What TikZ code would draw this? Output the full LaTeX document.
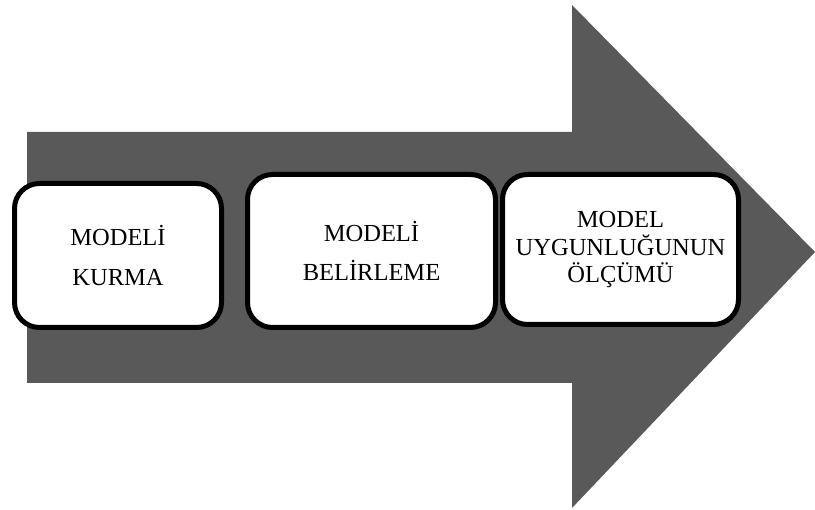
\documentclass[tikz,border=0pt]{standalone}
\usepackage{fontspec}
\setmainfont{Liberation Serif}
\usetikzlibrary{shapes}
\definecolor{arrowGray}{HTML}{595959}

\begin{document}
\begin{tikzpicture}[x = 1pt, y = -1pt]
	\tikzstyle{arrowStyle} = [fill = arrowGray, draw = none]
	\tikzstyle{stepStyle} = [shape = rectangle, rounded corners = 25pt, line width = 5pt, draw = black, fill = white, align = center, inner sep = 0pt, font = \fontsize{24.5}{27.5}\selectfont]
	\useasboundingbox (0, 0) rectangle (815, 510);
	\fill[arrowStyle] (27, 132) -- (572, 132) -- (572, 5) -- (815, 252) -- (572, 508) -- (572, 383) -- (27, 383) -- cycle;
	\node[stepStyle, minimum width = 207pt, minimum height = 144pt] (s1) at (118, 255.5) {MODELİ\\[12pt]KURMA};
	\node[stepStyle, minimum width = 248pt, minimum height = 153pt] (s2) at (371.5, 251) {MODELİ\\[12pt]BELİRLEME};
	\node[stepStyle, minimum width = 236pt, minimum height = 150pt] (s3) at (620.5, 249.5) {MODEL\\UYGUNLUĞUNUN\\ÖLÇÜMÜ};
\end{tikzpicture}
\end{document}
